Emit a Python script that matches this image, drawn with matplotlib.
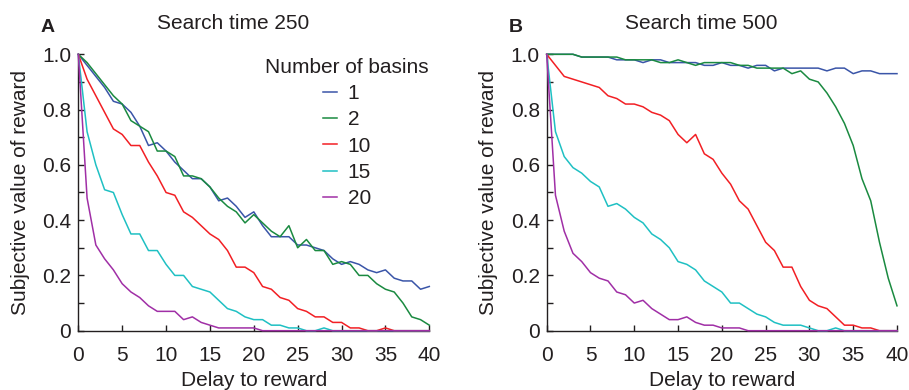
import matplotlib
matplotlib.use("Agg")
import matplotlib.pyplot as plt
import numpy as np
from matplotlib.ticker import MultipleLocator, FuncFormatter

plt.rcParams['font.family'] = ['Liberation Sans', 'DejaVu Sans']

delay = list(range(41))
basins = ["1", "2", "10", "15", "20"]
colors = ["#3a55a8", "#1a8a40", "#f21f24", "#1fc0c3", "#a02fa6"]

# Panel A: search time 250
a_b1 = [1.0, 0.96, 0.92, 0.88, 0.83, 0.82, 0.79, 0.74, 0.67, 0.68, 0.65, 0.61, 0.58, 0.55, 0.55, 0.52,
        0.47, 0.48, 0.45, 0.41, 0.43, 0.38, 0.34, 0.34, 0.34, 0.31, 0.31, 0.30, 0.29, 0.26, 0.24,
        0.25, 0.24, 0.22, 0.21, 0.22, 0.19, 0.18, 0.18, 0.15, 0.16]
a_b2 = [1.0, 0.97, 0.93, 0.89, 0.85, 0.82, 0.76, 0.74, 0.72, 0.65, 0.65, 0.63, 0.56, 0.56, 0.55, 0.52,
        0.48, 0.45, 0.43, 0.39, 0.42, 0.39, 0.36, 0.34, 0.38, 0.30, 0.33, 0.29, 0.29, 0.24, 0.25,
        0.24, 0.20, 0.20, 0.17, 0.15, 0.14, 0.10, 0.05, 0.04, 0.02]
a_b10 = [1.0, 0.91, 0.85, 0.79, 0.73, 0.71, 0.67, 0.67, 0.61, 0.56, 0.50, 0.49, 0.43, 0.41, 0.38, 0.35,
         0.33, 0.29, 0.23, 0.23, 0.21, 0.16, 0.15, 0.12, 0.11, 0.08, 0.07, 0.05, 0.05, 0.03, 0.03,
         0.01, 0.01, 0.0, 0.0, 0.01, 0.0, 0.0, 0.0, 0.0, 0.0]
a_b15 = [1.0, 0.72, 0.60, 0.51, 0.50, 0.42, 0.35, 0.35, 0.29, 0.29, 0.24, 0.20, 0.20, 0.16, 0.15, 0.14,
         0.11, 0.08, 0.07, 0.05, 0.04, 0.04, 0.02, 0.02, 0.01, 0.01, 0.0, 0.0, 0.01, 0.0, 0.0,
         0.0, 0.0, 0.0, 0.0, 0.0, 0.0, 0.0, 0.0, 0.0, 0.0]
a_b20 = [1.0, 0.48, 0.31, 0.26, 0.22, 0.17, 0.14, 0.12, 0.09, 0.07, 0.07, 0.07, 0.04, 0.05, 0.03, 0.02,
         0.01, 0.01, 0.01, 0.01, 0.01, 0.0, 0.0, 0.0, 0.0, 0.0, 0.0, 0.0, 0.0, 0.0, 0.0,
         0.0, 0.0, 0.0, 0.0, 0.0, 0.0, 0.0, 0.0, 0.0, 0.0]

# Panel B: search time 500
b_b1 = [1.0, 1.0, 1.0, 1.0, 0.99, 0.99, 0.99, 0.99, 0.98, 0.98, 0.98, 0.97, 0.98, 0.98, 0.97, 0.97,
        0.97, 0.97, 0.96, 0.96, 0.97, 0.96, 0.96, 0.95, 0.96, 0.96, 0.94, 0.95, 0.95, 0.95, 0.95,
        0.95, 0.94, 0.95, 0.95, 0.93, 0.94, 0.94, 0.93, 0.93, 0.93]
b_b2 = [1.0, 1.0, 1.0, 1.0, 0.99, 0.99, 0.99, 0.99, 0.99, 0.98, 0.98, 0.98, 0.98, 0.97, 0.97, 0.98,
        0.97, 0.96, 0.97, 0.97, 0.97, 0.97, 0.96, 0.96, 0.95, 0.95, 0.95, 0.95, 0.93, 0.94, 0.91,
        0.90, 0.86, 0.81, 0.75, 0.67, 0.55, 0.47, 0.32, 0.19, 0.09]
b_b10 = [1.0, 0.96, 0.92, 0.91, 0.90, 0.89, 0.88, 0.85, 0.84, 0.82, 0.82, 0.81, 0.79, 0.78, 0.76, 0.71,
         0.68, 0.71, 0.64, 0.62, 0.57, 0.53, 0.47, 0.44, 0.38, 0.32, 0.29, 0.23, 0.23, 0.16, 0.11,
         0.09, 0.08, 0.05, 0.02, 0.02, 0.01, 0.01, 0.0, 0.0, 0.0]
b_b15 = [1.0, 0.72, 0.63, 0.59, 0.57, 0.54, 0.52, 0.45, 0.46, 0.44, 0.41, 0.39, 0.35, 0.33, 0.30, 0.25,
         0.24, 0.22, 0.18, 0.16, 0.14, 0.10, 0.10, 0.08, 0.06, 0.05, 0.03, 0.02, 0.02, 0.02, 0.01,
         0.0, 0.0, 0.01, 0.0, 0.0, 0.0, 0.0, 0.0, 0.0, 0.0]
b_b20 = [1.0, 0.49, 0.36, 0.28, 0.25, 0.21, 0.19, 0.18, 0.14, 0.13, 0.10, 0.11, 0.08, 0.06, 0.04, 0.04,
         0.05, 0.03, 0.02, 0.02, 0.01, 0.01, 0.01, 0.0, 0.0, 0.0, 0.0, 0.0, 0.0, 0.0, 0.0,
         0.0, 0.0, 0.0, 0.0, 0.0, 0.0, 0.0, 0.0, 0.0, 0.0]

panels = [
    ("A", "Search time 250", [a_b1, a_b2, a_b10, a_b15, a_b20]),
    ("B", "Search time 500", [b_b1, b_b2, b_b10, b_b15, b_b20]),
]

W, H = 909, 390
fig = plt.figure(figsize=(W / 100, H / 100), dpi=100)
rects = [
    [78.3 / W, 1 - 330.7 / H, (429.3 - 78.3) / W, (330.7 - 54.3) / H],
    [546.7 / W, 1 - 330.7 / H, (897.0 - 546.7) / W, (330.7 - 54.3) / H],
]

fs = 15
txt = "#231f20"

def yfmt(v, pos):
    if abs(v) < 1e-9:
        return "0"
    return f"{v:.1f}"

for i, (letter, title, series) in enumerate(panels):
    ax = fig.add_axes(rects[i])
    for s, lab, c in zip(series, basins, colors):
        ax.plot(delay, s, color=c, lw=1.1, label=lab, clip_on=False, zorder=3)
    ax.set_xlim(0, 40)
    ax.set_ylim(0, 1.0)
    for sp in ("top", "right"):
        ax.spines[sp].set_visible(False)
    for sp in ("left", "bottom"):
        ax.spines[sp].set_linewidth(1.0)
        ax.spines[sp].set_color(txt)
    ax.xaxis.set_major_locator(MultipleLocator(5))
    ax.yaxis.set_major_locator(MultipleLocator(0.2))
    ax.yaxis.set_minor_locator(MultipleLocator(0.1))
    ax.yaxis.set_major_formatter(FuncFormatter(yfmt))
    ax.tick_params(axis="both", which="both", direction="in", labelsize=fs,
                   colors=txt, width=1.0)
    ax.tick_params(axis="both", which="major", length=4)
    ax.tick_params(axis="x", which="major", pad=11)
    ax.tick_params(axis="y", which="major", pad=5)
    ax.tick_params(axis="y", which="minor", length=4)
    ax.set_xlabel("Delay to reward", fontsize=fs, color=txt, labelpad=4)
    ax.set_ylabel("Subjective value of reward", fontsize=fs, color=txt, labelpad=9)
    ax.set_title(title, fontsize=fs, color=txt, x=0.44, pad=18)
    ax.text(-0.088, 1.08, letter, transform=ax.transAxes, fontsize=fs - 1,
            fontweight="bold", color=txt, ha="center", va="baseline")
    if i == 0:
        leg = ax.legend(title="Number of basins", loc="upper right",
                        bbox_to_anchor=(1.04, 1.04), frameon=False,
                        fontsize=fs, title_fontsize=fs, handlelength=0.7,
                        handletextpad=0.5, labelspacing=0.35, borderpad=0.2)
        for t in leg.get_texts():
            t.set_color(txt)
        leg.get_title().set_color(txt)

fig.savefig("out.png", dpi=100)
